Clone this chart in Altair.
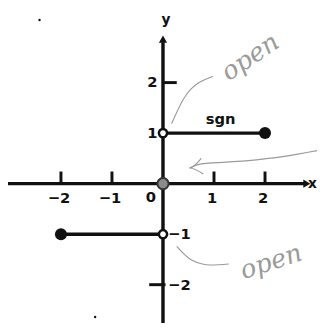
import altair as alt
import pandas as pd

# ---- data ----
x_ticks = [-2, -1, 1, 2]
x_tick_labels = ["−2", "−1", "1", "2"]
y_ticks_left = [2, 1]
y_ticks_right = [-1, -2]

upper_x = [0, 2]; upper_y = [1, 1]
lower_x = [-2, 0]; lower_y = [-1, -1]
open_x = [0, 0]; open_y = [1, -1]
closed_x = [2, -2]; closed_y = [1, -1]
origin_x = [0]; origin_y = [0]

# annotation paths (hand drawn pencil marks)
ann_up_x = [0.17, 0.45, 0.98]
ann_up_y = [1.19, 1.75, 2.12]
ann_low_x = [0.27, 0.56, 0.94, 1.29]
ann_low_y = [-1.24, -1.51, -1.61, -1.59]
ann_arrow_x = [3.06, 2.38, 1.62, 0.75, 0.52]
ann_arrow_y = [0.66, 0.54, 0.45, 0.39, 0.31]
head_x = [0.75, 0.52, 0.79]
head_y = [0.50, 0.31, 0.19]
specks_x = [-2.42, -1.33]
specks_y = [3.24, -2.64]

X_DOM = [-3.038, 3.019]
Y_DOM = [-2.699, 3.417]
xs = alt.Scale(domain=X_DOM, nice=False, zero=False)
ys = alt.Scale(domain=Y_DOM, nice=False, zero=False)

def enc(**kw):
    return dict(
        x=alt.X("x:Q", scale=xs, axis=None),
        y=alt.Y("y:Q", scale=ys, axis=None),
        **kw,
    )

INK = "#111111"
PENCIL = "#9a9a9a"

# axes
xaxis = alt.Chart(pd.DataFrame({"x": [-3.04], "x2": [2.80], "y": [0]})).mark_rule(
    color=INK, strokeWidth=3.5).encode(
    x=alt.X("x:Q", scale=xs, axis=None), x2="x2:Q", y=alt.Y("y:Q", scale=ys, axis=None))
yaxis = alt.Chart(pd.DataFrame({"x": [0], "y": [2.80], "y2": [-2.9]})).mark_rule(
    color=INK, strokeWidth=3.5).encode(
    x=alt.X("x:Q", scale=xs, axis=None), y=alt.Y("y:Q", scale=ys, axis=None), y2="y2:Q")
arrow_up = alt.Chart(pd.DataFrame({"x": [0], "y": [2.86]})).mark_point(
    shape="triangle-up", filled=True, color=INK, size=70, opacity=1).encode(**enc())
arrow_right = alt.Chart(pd.DataFrame({"x": [2.82], "y": [0]})).mark_point(
    shape="triangle-right", filled=True, color=INK, size=70, opacity=1).encode(**enc())

# ticks
xt = alt.Chart(pd.DataFrame({"x": x_ticks, "y": [0] * 4, "y2": [0.24] * 4})).mark_rule(
    color=INK, strokeWidth=3).encode(
    x=alt.X("x:Q", scale=xs, axis=None), y=alt.Y("y:Q", scale=ys, axis=None), y2="y2:Q")
yt = alt.Chart(pd.DataFrame({"y": [2, -2], "x": [0, -0.27], "x2": [0.27, 0.05]})).mark_rule(
    color=INK, strokeWidth=3).encode(
    y=alt.Y("y:Q", scale=ys, axis=None), x=alt.X("x:Q", scale=xs, axis=None), x2="x2:Q")
yt2 = alt.Chart(pd.DataFrame({"y": [-1], "x": [-0.1], "x2": [0.1]})).mark_rule(
    color=INK, strokeWidth=3).encode(
    y=alt.Y("y:Q", scale=ys, axis=None), x=alt.X("x:Q", scale=xs, axis=None), x2="x2:Q")

FONT = "DejaVu Sans"
xlab = alt.Chart(pd.DataFrame({"x": x_ticks, "y": [0] * 4, "t": x_tick_labels})).mark_text(
    font=FONT, fontWeight="bold", fontSize=15, color=INK, dy=15, dx=-2).encode(**enc(text="t:N"))
zero_lab = alt.Chart(pd.DataFrame({"x": [-0.24], "y": [0], "t": ["0"]})).mark_text(
    font=FONT, fontWeight="bold", fontSize=15, color=INK, dy=14).encode(**enc(text="t:N"))
ylab_l = alt.Chart(pd.DataFrame({"x": [-0.11] * 2, "y": y_ticks_left, "t": ["2", "1"]})).mark_text(
    font=FONT, fontWeight="bold", fontSize=15, color=INK, align="right").encode(**enc(text="t:N"))
ylab_r = alt.Chart(pd.DataFrame({"x": [0.1] * 2, "y": y_ticks_right, "t": ["−1", "−2"]})).mark_text(
    font=FONT, fontWeight="bold", fontSize=15, color=INK, align="left").encode(**enc(text="t:N"))
axis_names = alt.Chart(pd.DataFrame({"x": [0.06, 2.93], "y": [3.24, 0.0], "t": ["y", "x"]})).mark_text(
    font=FONT, fontWeight="bold", fontSize=14, color=INK).encode(**enc(text="t:N"))
sgn = alt.Chart(pd.DataFrame({"x": [1.13], "y": [1.28], "t": ["sgn"]})).mark_text(
    font=FONT, fontWeight="bold", fontSize=15, color=INK).encode(**enc(text="t:N"))

# function graph
seg = alt.Chart(pd.DataFrame({
    "x": upper_x + lower_x, "y": upper_y + lower_y, "g": ["u", "u", "l", "l"]})).mark_line(
    color=INK, strokeWidth=3.5).encode(**enc(detail="g:N"))
closed = alt.Chart(pd.DataFrame({"x": closed_x, "y": closed_y})).mark_circle(
    color=INK, size=150, opacity=1).encode(**enc())
opened = alt.Chart(pd.DataFrame({"x": open_x, "y": open_y})).mark_point(
    shape="circle", filled=True, fill="white", stroke=INK, strokeWidth=2.5, size=70, opacity=1).encode(**enc())
origin = alt.Chart(pd.DataFrame({"x": origin_x, "y": origin_y})).mark_point(
    shape="circle", filled=True, fill="#8a8a8a", stroke="#333333", strokeWidth=2, size=130, opacity=1).encode(**enc())

# pencil annotations
ann_df = pd.DataFrame({
    "x": ann_up_x + ann_low_x + ann_arrow_x + head_x,
    "y": ann_up_y + ann_low_y + ann_arrow_y + head_y,
    "g": ["a"] * 3 + ["b"] * 4 + ["c"] * 5 + ["d"] * 3,
    "o": list(range(3)) + list(range(4)) + list(range(5)) + list(range(3)),
})
ann = alt.Chart(ann_df).mark_line(color=PENCIL, strokeWidth=1.2, interpolate="monotone").encode(
    **enc(detail="g:N", order="o:Q"))
open_txt = alt.Chart(pd.DataFrame({
    "x": [1.71, 2.12], "y": [2.50, -1.55], "t": ["open", "open"], "a": [326, 342]})).mark_text(
    font="DejaVu Serif", fontStyle="italic", fontWeight="normal", fontSize=26, color=PENCIL).encode(
    **enc(text="t:N", angle=alt.Angle("a:Q", scale=None)))
specks = alt.Chart(pd.DataFrame({"x": specks_x, "y": specks_y})).mark_circle(
    color=INK, size=6, opacity=1).encode(**enc())

chart = alt.layer(
    ann, open_txt, specks, xaxis, yaxis, arrow_up, arrow_right, xt, yt, yt2,
    seg, closed, opened, origin, xlab, zero_lab, ylab_l, ylab_r, axis_names, sgn,
).properties(
    width=315, height=315, padding=0, autosize=alt.AutoSizeParams(type="none"),
    background="white",
).configure_view(stroke=None, clip=False)

chart.save("out.html", embed_options={"renderer": "svg", "actions": False})
